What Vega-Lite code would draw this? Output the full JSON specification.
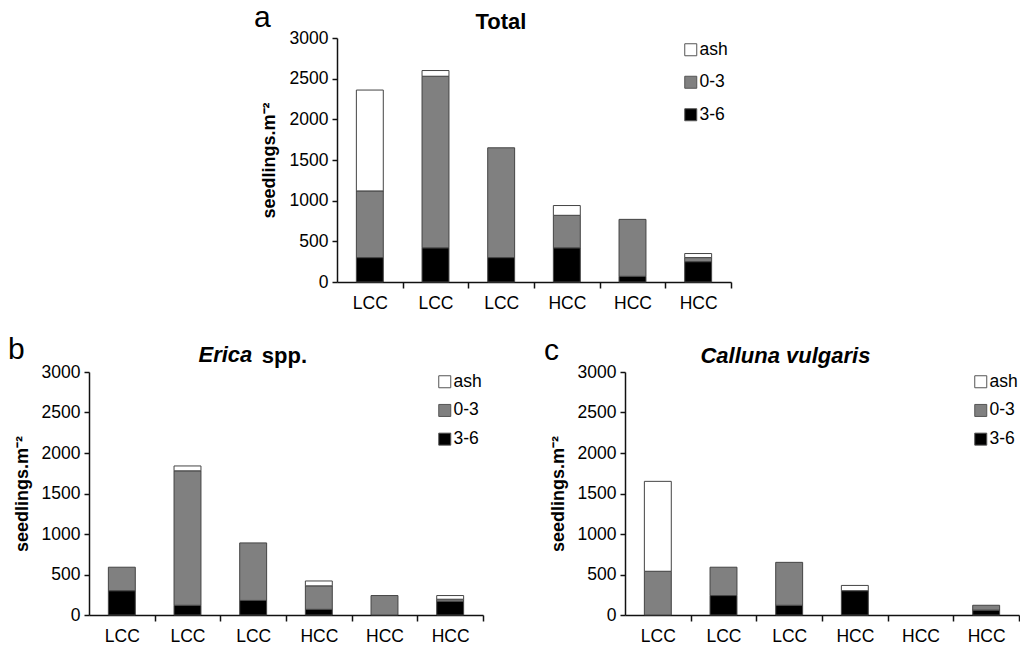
{
  "$schema": "https://vega.github.io/schema/vega-lite/v6.json",
  "padding": {"left": 8, "top": 3, "right": 0, "bottom": 0},
  "background": "white",
  "config": {
    "font": "Liberation Sans",
    "view": {"stroke": null},
    "title": {"fontSize": 22, "fontWeight": "bold", "color": "black", "offset": -5},
    "axis": {
      "domainColor": "#111", "domainWidth": 1.5, "tickColor": "#111", "tickWidth": 1.5,
      "labelColor": "black", "labelFontSize": 17.5, "titleColor": "black", "grid": false
    },
    "legend": {
      "symbolType": "square", "symbolSize": 144, "symbolStrokeColor": "#555", "symbolStrokeWidth": 1,
      "labelFontSize": 17.5, "labelColor": "black", "labelOffset": 0
    }
  },
  "resolve": {"legend": {"color": "independent"}},
  "datasets": {
    "total": [
      {"site": "LCC1", "cls": "3-6", "ord": 1, "v": 300},
      {"site": "LCC1", "cls": "0-3", "ord": 2, "v": 820},
      {"site": "LCC1", "cls": "ash", "ord": 3, "v": 1240},
      {"site": "LCC2", "cls": "3-6", "ord": 1, "v": 420},
      {"site": "LCC2", "cls": "0-3", "ord": 2, "v": 2110},
      {"site": "LCC2", "cls": "ash", "ord": 3, "v": 70},
      {"site": "LCC3", "cls": "3-6", "ord": 1, "v": 300},
      {"site": "LCC3", "cls": "0-3", "ord": 2, "v": 1350},
      {"site": "HCC1", "cls": "3-6", "ord": 1, "v": 420},
      {"site": "HCC1", "cls": "0-3", "ord": 2, "v": 400},
      {"site": "HCC1", "cls": "ash", "ord": 3, "v": 120},
      {"site": "HCC2", "cls": "3-6", "ord": 1, "v": 70},
      {"site": "HCC2", "cls": "0-3", "ord": 2, "v": 700},
      {"site": "HCC3", "cls": "3-6", "ord": 1, "v": 250},
      {"site": "HCC3", "cls": "0-3", "ord": 2, "v": 50},
      {"site": "HCC3", "cls": "ash", "ord": 3, "v": 50}
    ],
    "erica": [
      {"site": "LCC1", "cls": "3-6", "ord": 1, "v": 300},
      {"site": "LCC1", "cls": "0-3", "ord": 2, "v": 290},
      {"site": "LCC2", "cls": "3-6", "ord": 1, "v": 120},
      {"site": "LCC2", "cls": "0-3", "ord": 2, "v": 1660},
      {"site": "LCC2", "cls": "ash", "ord": 3, "v": 60},
      {"site": "LCC3", "cls": "3-6", "ord": 1, "v": 180},
      {"site": "LCC3", "cls": "0-3", "ord": 2, "v": 710},
      {"site": "HCC1", "cls": "3-6", "ord": 1, "v": 70},
      {"site": "HCC1", "cls": "0-3", "ord": 2, "v": 290},
      {"site": "HCC1", "cls": "ash", "ord": 3, "v": 60},
      {"site": "HCC2", "cls": "0-3", "ord": 2, "v": 240},
      {"site": "HCC3", "cls": "3-6", "ord": 1, "v": 170},
      {"site": "HCC3", "cls": "0-3", "ord": 2, "v": 25},
      {"site": "HCC3", "cls": "ash", "ord": 3, "v": 45}
    ],
    "calluna": [
      {"site": "LCC1", "cls": "0-3", "ord": 2, "v": 540},
      {"site": "LCC1", "cls": "ash", "ord": 3, "v": 1110},
      {"site": "LCC2", "cls": "3-6", "ord": 1, "v": 240},
      {"site": "LCC2", "cls": "0-3", "ord": 2, "v": 350},
      {"site": "LCC3", "cls": "3-6", "ord": 1, "v": 120},
      {"site": "LCC3", "cls": "0-3", "ord": 2, "v": 530},
      {"site": "HCC1", "cls": "3-6", "ord": 1, "v": 300},
      {"site": "HCC1", "cls": "ash", "ord": 3, "v": 65},
      {"site": "HCC3", "cls": "3-6", "ord": 1, "v": 60},
      {"site": "HCC3", "cls": "0-3", "ord": 2, "v": 60}
    ]
  },
  "spacing": 23,
  "vconcat": [
    {
      "spacing": 0,
      "resolve": {"legend": {"color": "independent"}},
      "hconcat": [
        {"width": 165, "height": 10, "data": {"values": [{"k": 1}]}, "mark": {"type": "point", "opacity": 0, "size": 1}, "encoding": {}},
        {
          "title": {"text": "a", "anchor": "start", "fontSize": 30, "fontWeight": "normal", "dx": -6, "dy": 17},
          "resolve": {"legend": {"color": "independent"}},
          "vconcat": [
            {
              "width": 394, "height": 244,
              "title": {"text": "Total", "anchor": "middle", "frame": "bounds", "dx": 5},
              "data": {"name": "total"},
              "mark": {"type": "bar", "stroke": "#444", "strokeWidth": 1, "width": {"band": 0.41}},
              "encoding": {
                "x": {"field": "site", "type": "nominal",
                  "scale": {"domain": ["LCC1", "LCC2", "LCC3", "HCC1", "HCC2", "HCC3"], "paddingInner": 0, "paddingOuter": 0},
                  "axis": {"title": null, "labelExpr": "slice(datum.value, 0, 3)", "labelAngle": 0, "tickOffset": 32.83, "labelOffset": -32.83, "tickSize": 6, "labelPadding": 6}},
                "y": {"field": "v", "type": "quantitative",
                  "scale": {"domain": [0, 3000], "nice": false},
                  "axis": {"title": "seedlings.m⁻²", "values": [0, 500, 1000, 1500, 2000, 2500, 3000], "format": "d", "tickSize": 5, "labelPadding": 4, "titleFontSize": 18, "titleFontWeight": "bold", "titlePadding": 11}},
                "color": {"field": "cls", "type": "nominal",
                  "scale": {"domain": ["ash", "0-3", "3-6"], "range": ["#ffffff", "#808080", "#000000"]},
                  "legend": {"title": null, "orient": "top-right", "offset": 3, "rowPadding": 13.5}},
                "order": {"field": "ord", "type": "quantitative"}
              }
            }
          ]
        }
      ]
    },
    {
      "spacing": 60,
      "resolve": {"legend": {"color": "independent"}},
      "hconcat": [
        {
          "title": {"text": "b", "anchor": "start", "fontSize": 30, "fontWeight": "normal", "dx": -5, "dy": 16},
          "resolve": {"legend": {"color": "independent"}},
          "vconcat": [
            {
              "title": {"text": "Erica", "anchor": "middle", "fontStyle": "italic", "dx": -23, "dy": 17},
              "resolve": {"legend": {"color": "independent"}},
              "vconcat": [
                {
                  "width": 394, "height": 243,
                  "title": {"text": "spp.", "anchor": "middle", "frame": "bounds", "dx": 36},
                  "data": {"name": "erica"},
                  "mark": {"type": "bar", "stroke": "#444", "strokeWidth": 1, "width": {"band": 0.41}},
                  "encoding": {
                    "x": {"field": "site", "type": "nominal",
                      "scale": {"domain": ["LCC1", "LCC2", "LCC3", "HCC1", "HCC2", "HCC3"], "paddingInner": 0, "paddingOuter": 0},
                      "axis": {"title": null, "labelExpr": "slice(datum.value, 0, 3)", "labelAngle": 0, "tickOffset": 32.83, "labelOffset": -32.83, "tickSize": 6, "labelPadding": 6}},
                    "y": {"field": "v", "type": "quantitative",
                      "scale": {"domain": [0, 3000], "nice": false},
                      "axis": {"title": "seedlings.m⁻²", "values": [0, 500, 1000, 1500, 2000, 2500, 3000], "format": "d", "tickSize": 5, "labelPadding": 4, "titleFontSize": 18, "titleFontWeight": "bold", "titlePadding": 10}},
                    "color": {"field": "cls", "type": "nominal",
                      "scale": {"domain": ["ash", "0-3", "3-6"], "range": ["#ffffff", "#808080", "#000000"]},
                      "legend": {"title": null, "orient": "top-right", "offset": 1, "rowPadding": 9.7}},
                    "order": {"field": "ord", "type": "quantitative"}
                  }
                }
              ]
            }
          ]
        },
        {
          "title": {"text": "c", "anchor": "start", "fontSize": 30, "fontWeight": "normal", "dx": -5, "dy": 16},
          "resolve": {"legend": {"color": "independent"}},
          "vconcat": [
            {
              "width": 394, "height": 243,
              "title": {"text": "Calluna vulgaris", "anchor": "middle", "frame": "bounds", "fontStyle": "italic", "dx": 1},
              "data": {"name": "calluna"},
              "mark": {"type": "bar", "stroke": "#444", "strokeWidth": 1, "width": {"band": 0.41}},
              "encoding": {
                "x": {"field": "site", "type": "nominal",
                  "scale": {"domain": ["LCC1", "LCC2", "LCC3", "HCC1", "HCC2", "HCC3"], "paddingInner": 0, "paddingOuter": 0},
                  "axis": {"title": null, "labelExpr": "slice(datum.value, 0, 3)", "labelAngle": 0, "tickOffset": 32.83, "labelOffset": -32.83, "tickSize": 6, "labelPadding": 6}},
                "y": {"field": "v", "type": "quantitative",
                  "scale": {"domain": [0, 3000], "nice": false},
                  "axis": {"title": "seedlings.m⁻²", "values": [0, 500, 1000, 1500, 2000, 2500, 3000], "format": "d", "tickSize": 5, "labelPadding": 4, "titleFontSize": 18, "titleFontWeight": "bold", "titlePadding": 10}},
                "color": {"field": "cls", "type": "nominal",
                  "scale": {"domain": ["ash", "0-3", "3-6"], "range": ["#ffffff", "#808080", "#000000"]},
                  "legend": {"title": null, "orient": "top-right", "offset": 1, "rowPadding": 9.7}},
                "order": {"field": "ord", "type": "quantitative"}
              }
            }
          ]
        }
      ]
    }
  ]
}
